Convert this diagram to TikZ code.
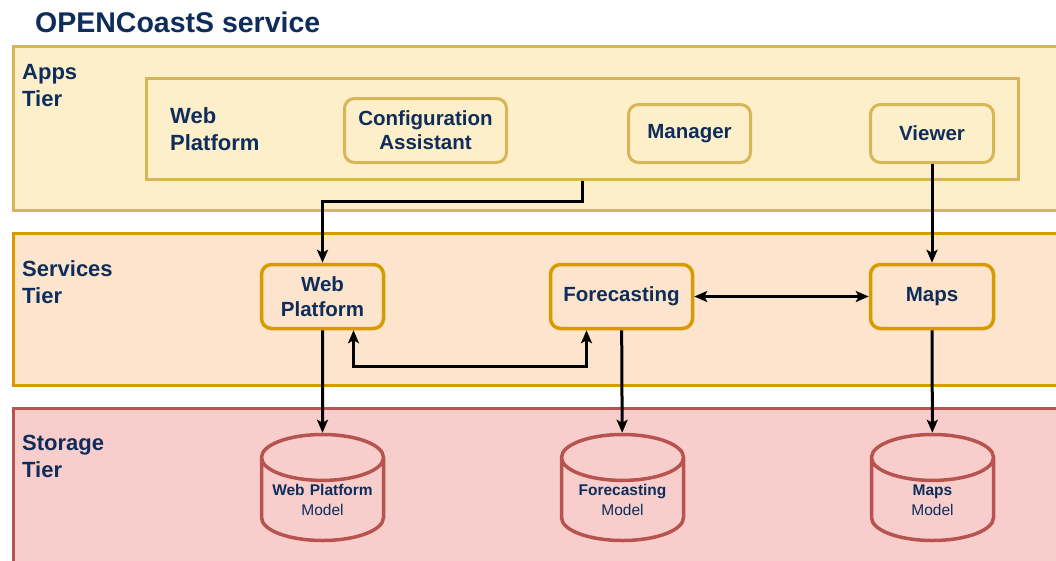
\documentclass[tikz,border=0pt]{standalone}
\usepackage{fontspec}
\setmainfont{Liberation Sans}
\usetikzlibrary{shapes.geometric, arrows.meta}

\definecolor{navy}{HTML}{0E2D5B}
\definecolor{appfill}{HTML}{FCEFC9}
\definecolor{appline}{HTML}{D6B656}
\definecolor{svcfill}{HTML}{FDE4CC}
\definecolor{svcline}{HTML}{D79B00}
\definecolor{storefill}{HTML}{F8CECC}
\definecolor{storeline}{HTML}{B85450}

\begin{document}
\begin{tikzpicture}
        [x=1pt, y=-1pt,
        tier/.style={line width=3pt, anchor=north west, inner sep=0pt},
        tierlabel/.style={anchor=north west, align=left, inner sep=0pt, text=navy,
            font=\fontsize{22}{27}\selectfont\bfseries},
        app/.style={draw=appline, fill=appfill, line width=3pt, rounded corners=10pt,
            align=center, text=navy, font=\fontsize{20.5}{24}\selectfont\bfseries},
        svc/.style={draw=svcline, fill=svcfill, line width=3.5pt, rounded corners=10pt,
            align=center, text=navy, minimum height=64pt, font=\fontsize{20.5}{25}\selectfont\bfseries},
        store/.style={cylinder, shape border rotate=90, aspect=0.45, draw=storeline, fill=storefill,
            line width=3.5pt, minimum width=122pt, minimum height=106pt, text width=102pt,
            inner sep=0pt, align=center, text=navy, anchor=shape center,
            font=\fontsize{15.5}{20}\selectfont},
        arrow/.style={-{Stealth[length=13pt, width=11pt, inset=3pt]}, line width=3pt, black},
        dblarrow/.style={{Stealth[length=13pt, width=11pt, inset=3pt]}-{Stealth[length=13pt, width=11pt, inset=3pt]}, line width=3pt, black}]

        \useasboundingbox[fill=white] (0,0) rectangle (1056,560);

        % title
        \node[anchor=west, inner sep=0pt, text=navy, font=\fontsize{28.5}{34}\selectfont\bfseries]
            (title) at (35,22) {OPENCoastS service};

        % --- Tiers ---
        \node[tier, draw=appline, fill=appfill, minimum width=1060pt, minimum height=164pt] (appstier) at (12,45) {};
        \node[tier, draw=svcline, fill=svcfill, minimum width=1060pt, minimum height=152pt] (svctier) at (12,232) {};
        \node[tier, draw=storeline, fill=storefill, minimum width=1060pt, minimum height=170pt] (storetier) at (12,407) {};

        \node[tierlabel] (appslabel) at (22,64) {Apps\\Tier};
        \node[tierlabel] (svclabel) at (22,260) {Services\\Tier};
        \node[tierlabel] (storelabel) at (22,435) {Storage\\Tier};

        % --- Apps tier ---
        \node[draw=appline, fill=appfill, line width=3pt, minimum width=872pt, minimum height=101pt]
            (webapp) at (582.5,129) {};
        \node[tierlabel] (webapplabel) at (170,107) {Web\\Platform};

        \node[app, minimum width=162pt, minimum height=64pt] (config) at (425.5,130.5) {Configuration\\Assistant};
        \node[app, minimum width=122pt, minimum height=58pt] (manager) at (689.5,133.5) {Manager};
        \node[app, minimum width=123pt, minimum height=58pt] (viewer) at (932,133.5) {Viewer};

        % --- Services tier ---
        \node[svc, minimum width=122pt] (websvc) at (322.5,296.5) {Web\\Platform};
        \node[svc, minimum width=142pt] (forecast) at (621.5,296.5) {Forecasting};
        \node[svc, minimum width=123pt] (maps) at (932,296.5) {Maps};

        % --- Storage tier ---
        \node[store] (wpmodel) at (322.5,487.5) {\textbf{Web Platform}\\Model};
        \node[store] (fcmodel) at (622.5,487.5) {\textbf{Forecasting}\\Model};
        \node[store] (mapsmodel) at (932.5,487.5) {\textbf{Maps}\\Model};

        % connectors
        \draw[arrow] (webapp.south) -- ++(0,20) -| (websvc.north);
        \draw[arrow] (viewer) -- (maps);
        \draw[dblarrow] (forecast) -- (maps);
        \draw[dblarrow] ([xshift=31pt]websvc.south) -- ++(0,36) -| ([xshift=-35pt]forecast.south);

        \draw[arrow] (websvc) -- (wpmodel);
        \draw[arrow] (forecast) -- (fcmodel);
        \draw[arrow] (maps) -- (mapsmodel);
    \end{tikzpicture}
\end{document}
